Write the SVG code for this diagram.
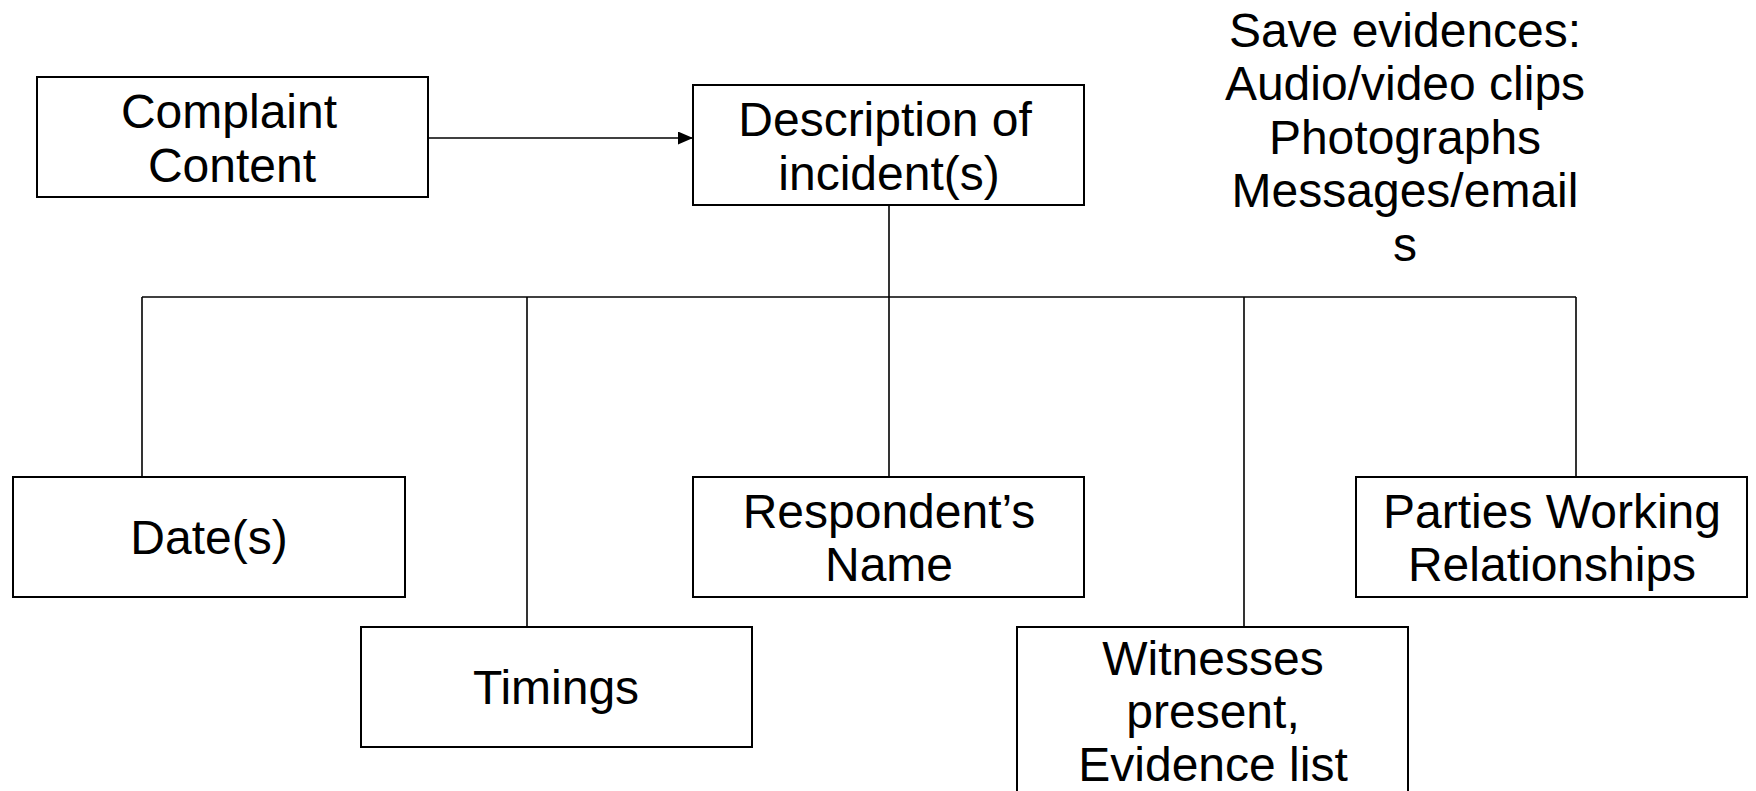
<svg xmlns="http://www.w3.org/2000/svg" width="1756" height="791" viewBox="0 0 1756 791">
<style>
.box{fill:#fff;stroke:#000;stroke-width:2}
.t{font-family:"Liberation Sans",Arial,sans-serif;font-size:48px;fill:#000;text-anchor:middle}
.c{fill:none;stroke:#000;stroke-width:1.6}
</style>
<defs>
<marker id="ah" markerWidth="15" markerHeight="13" refX="14" refY="6.5" orient="auto" markerUnits="userSpaceOnUse">
<path d="M0,0 L15,6.5 L0,13 z" fill="#000"/>
</marker>
</defs>
<rect width="1756" height="791" fill="#fff"/>
<g id="connectors">
<line class="c" x1="428" y1="138" x2="692" y2="138" marker-end="url(#ah)"/>
<line class="c" x1="889" y1="205" x2="889" y2="297"/>
<line class="c" x1="142" y1="297" x2="1576" y2="297"/>
<line class="c" x1="142" y1="297" x2="142" y2="477"/>
<line class="c" x1="527" y1="297" x2="527" y2="627"/>
<line class="c" x1="889" y1="297" x2="889" y2="477"/>
<line class="c" x1="1244" y1="297" x2="1244" y2="627"/>
<line class="c" x1="1576" y1="297" x2="1576" y2="477"/>
</g>
<g id="complaint">
<rect class="box" x="37" y="77" width="391" height="120"/>
<text class="t" x="229" y="128">Complaint</text>
<text class="t" x="232" y="182">Content</text>
</g>
<g id="description">
<rect class="box" x="693" y="85" width="391" height="120"/>
<text class="t" x="885" y="136">Description of</text>
<text class="t" x="889" y="190">incident(s)</text>
</g>
<g id="evidences">
<text class="t" x="1405" y="47">Save evidences:</text>
<text class="t" x="1405" y="100">Audio/video clips</text>
<text class="t" x="1405" y="154">Photographs</text>
<text class="t" x="1405" y="207">Messages/email</text>
<text class="t" x="1405" y="261">s</text>
</g>
<g id="dates">
<rect class="box" x="13" y="477" width="392" height="120"/>
<text class="t" x="209" y="554">Date(s)</text>
</g>
<g id="timings">
<rect class="box" x="361" y="627" width="391" height="120"/>
<text class="t" x="556" y="704">Timings</text>
</g>
<g id="respondent">
<rect class="box" x="693" y="477" width="391" height="120"/>
<text class="t" x="889" y="528">Respondent’s</text>
<text class="t" x="889" y="581">Name</text>
</g>
<g id="witnesses">
<rect class="box" x="1017" y="627" width="391" height="180"/>
<text class="t" x="1213" y="675">Witnesses</text>
<text class="t" x="1213" y="728">present,</text>
<text class="t" x="1213" y="781">Evidence list</text>
</g>
<g id="parties">
<rect class="box" x="1356" y="477" width="391" height="120"/>
<text class="t" x="1552" y="528">Parties Working</text>
<text class="t" x="1552" y="581">Relationships</text>
</g>
</svg>
